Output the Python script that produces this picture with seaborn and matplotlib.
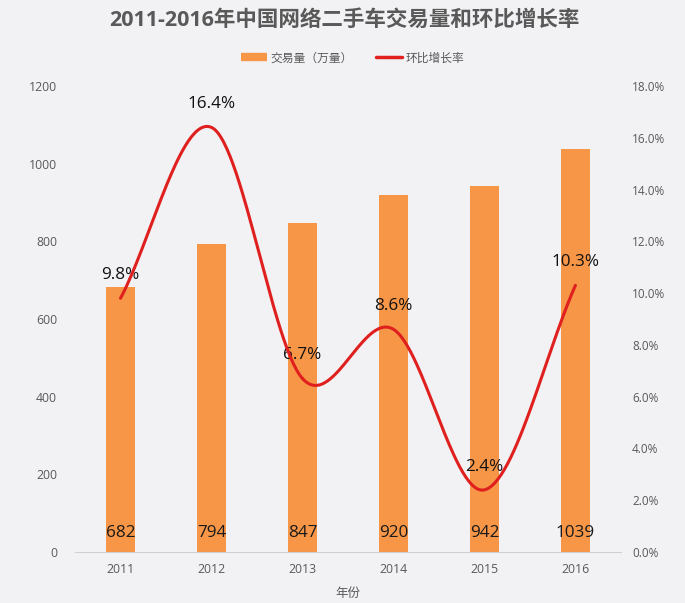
import numpy as np
import pandas as pd
import matplotlib
matplotlib.use("Agg")
import matplotlib.pyplot as plt
import seaborn as sns
from matplotlib.lines import Line2D
from matplotlib.ticker import FuncFormatter

years = ["2011", "2012", "2013", "2014", "2015", "2016"]
volume = [682, 794, 847, 920, 942, 1039]
growth = [9.8, 16.4, 6.7, 8.6, 2.4, 10.3]
title = "2011-2016年中国网络二手车交易量和环比增长率"
bar_name = "交易量（万量）"
line_name = "环比增长率"
xlabel = "年份"

sns.set_theme(style="white")
plt.rcParams['font.family'] = ['Open Sans', 'Noto Sans CJK SC', 'DejaVu Sans']

bg = "#F2F1F4"
orange = "#F79646"
red = "#E0201E"
grey = "#595959"

df = pd.DataFrame({"year": years, "volume": volume, "growth": growth})

fig = plt.figure(figsize=(6.85, 6.03), dpi=100, facecolor=bg)
ax = fig.add_axes([0.1095, 0.0846, 0.797, 0.7728])
ax.set_facecolor(bg)
sns.barplot(data=df, x="year", y="volume", color=orange, width=0.31,
            saturation=1, ax=ax, zorder=2, linewidth=0, edgecolor="none")
ax.set_xlim(-0.5, len(years) - 0.5)
ax.set_ylim(0, 1200)
ax.set_yticks(range(0, 1201, 200))
ax.tick_params(axis='y', length=0, labelsize=8.8, colors=grey, pad=13)
ax.set_xticks(np.arange(len(years)))
ax.set_xticklabels(years)
ax.tick_params(axis='x', length=0, labelsize=8.8, colors=grey, pad=8)
ax.set_xticks(np.arange(len(years) + 1) - 0.5, minor=True)
ax.tick_params(axis='x', which='minor', length=4, color="#D0D0D0", width=0.8)
ax.set_xlabel(xlabel, fontsize=9, color=grey, labelpad=8)
ax.set_ylabel("")
for s in ["top", "left", "right"]:
    ax.spines[s].set_visible(False)
ax.spines["bottom"].set_color("#D0D0D0")
ax.spines["bottom"].set_linewidth(0.8)

for i, v in enumerate(volume):
    ax.text(i, 48, str(v), ha="center", va="center", fontsize=12.3,
            color="#1A1A1A", zorder=5)

ax2 = ax.twinx()
ax2.set_ylim(0, 18)
ax2.set_yticks(np.arange(0, 18.1, 2))
ax2.yaxis.set_major_formatter(FuncFormatter(lambda v, p: f"{v:.1f}%"))
ax2.tick_params(axis='y', length=0, labelsize=8.5, colors=grey, pad=8)
for s in ["top", "left", "right", "bottom"]:
    ax2.spines[s].set_visible(False)

# Smooth (Catmull-Rom) curve through the points, like Excel's smoothed line
x = np.arange(len(growth), dtype=float)
y = np.array(growth, dtype=float)
px = np.concatenate([[2 * x[0] - x[1]], x, [2 * x[-1] - x[-2]]])
py = np.concatenate([[2 * y[0] - y[1]], y, [2 * y[-1] - y[-2]]])
cx, cy = [], []
for k in range(1, len(px) - 2):
    t = np.linspace(0, 1, 60)
    p0, p1, p2, p3 = px[k-1], px[k], px[k+1], px[k+2]
    q0, q1, q2, q3 = py[k-1], py[k], py[k+1], py[k+2]
    def cr(a0, a1, a2, a3):
        return 0.5 * ((2 * a1) + (-a0 + a2) * t + (2*a0 - 5*a1 + 4*a2 - a3) * t**2
                      + (-a0 + 3*a1 - 3*a2 + a3) * t**3)
    cx.extend(cr(p0, p1, p2, p3))
    cy.extend(cr(q0, q1, q2, q3))
ax2.plot(cx, cy, color=red, lw=2.2, zorder=4)

for i, g in enumerate(growth):
    ax2.text(i, g + 0.9, f"{g}%", ha="center", va="center", fontsize=12.3,
             color="#111111")

fig.text(0.503, 0.967, title, ha="center", va="center", fontsize=15.5,
         fontweight="bold", color=grey)

handles = [Line2D([0], [0], color=orange, lw=6, solid_capstyle="butt"),
           Line2D([0], [0], color=red, lw=2.5)]
fig.legend(handles, [bar_name, line_name], loc="center", ncol=2,
           bbox_to_anchor=(0.515, 0.904), frameon=False, fontsize=8.5,
           labelcolor=grey, handlelength=2.2, columnspacing=2.0,
           handletextpad=0.3)

fig.savefig("out.png", dpi=100, facecolor=bg)
